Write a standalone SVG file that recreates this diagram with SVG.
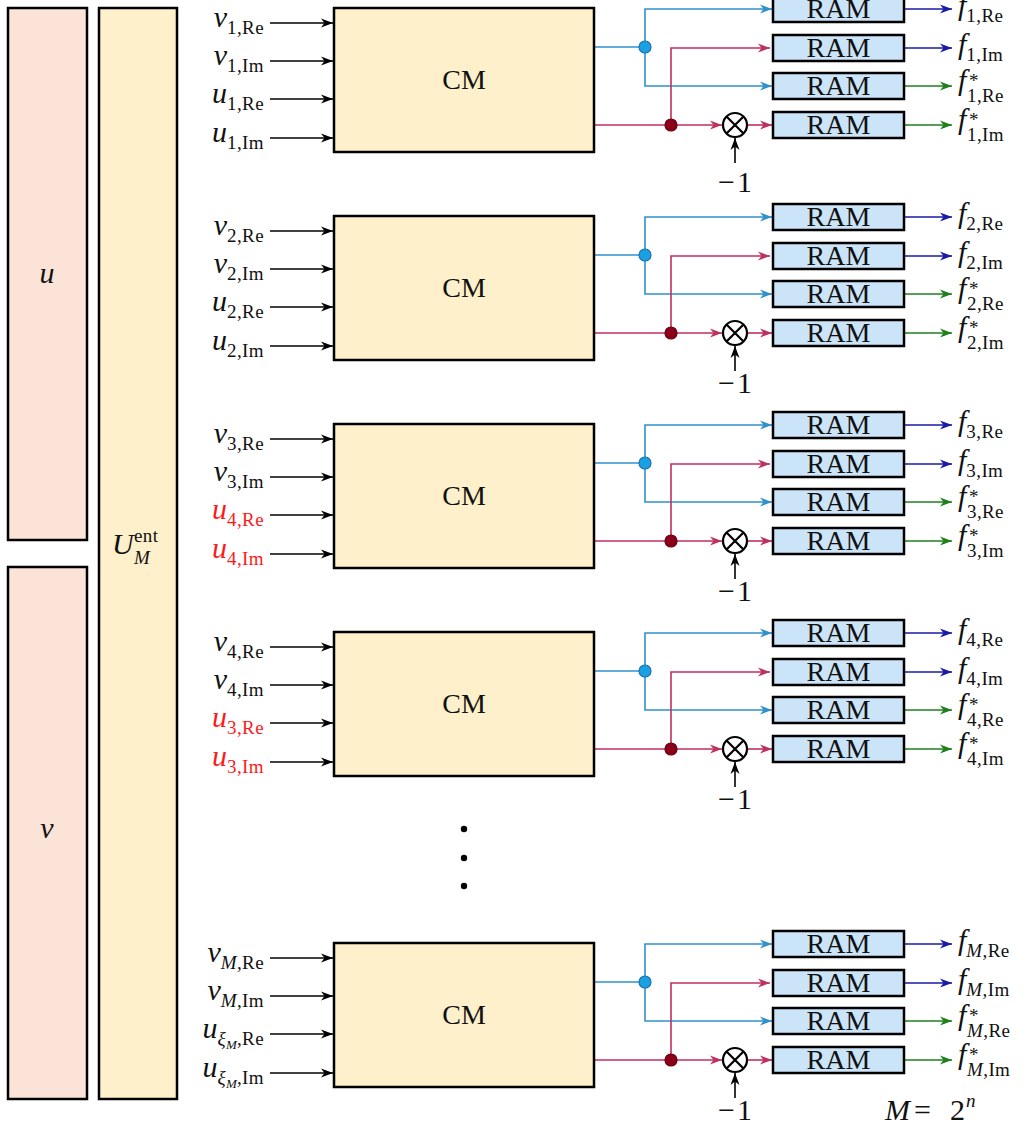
<svg xmlns="http://www.w3.org/2000/svg" width="1026" height="1128" viewBox="0 0 1026 1128">
<style>
.box{stroke:#000;stroke-width:2.5}
.cm{fill:#fff0cc}
.ram{fill:#cce4f7}
.peach{fill:#fbe3d8}
.bl{stroke:#3090cc;stroke-width:1.6;fill:none}
.rd{stroke:#c0305f;stroke-width:1.6;fill:none}
.bk{stroke:#000;stroke-width:1.6;fill:none}
.nv{stroke:#1a1aa6;stroke-width:1.6;fill:none}
.gr{stroke:#1f7f1f;stroke-width:1.6;fill:none}
.t{font-family:"Liberation Serif",serif;font-size:30px;fill:#111}
.w{font-size:28px}
.mi{font-style:italic}
.sub{font-size:19px;font-style:normal;letter-spacing:0.4px}
.red{fill:#ff1a1a}
.end{text-anchor:end}
.mid{text-anchor:middle}
.neg{letter-spacing:2px}
.ot{fill:#fff;stroke:#000;stroke-width:2.2}
.bdot{fill:#1ba1e2;stroke:#1a74b0;stroke-width:1.2}
.rdot{fill:#8b0018;stroke:#6a0010;stroke-width:1.2}
</style>
<defs>
<marker id="ak" markerUnits="userSpaceOnUse" markerWidth="12" markerHeight="10" viewBox="0 0 12 10" refX="12" refY="5" orient="auto"><path d="M0,0.5 L12,5 L0,9.5 L3.5,5 z" fill="#000"/></marker>
<marker id="ab" markerUnits="userSpaceOnUse" markerWidth="12" markerHeight="10" viewBox="0 0 12 10" refX="12" refY="5" orient="auto"><path d="M0,0.5 L12,5 L0,9.5 L3.5,5 z" fill="#3090cc"/></marker>
<marker id="ar" markerUnits="userSpaceOnUse" markerWidth="12" markerHeight="10" viewBox="0 0 12 10" refX="12" refY="5" orient="auto"><path d="M0,0.5 L12,5 L0,9.5 L3.5,5 z" fill="#c0305f"/></marker>
<marker id="an" markerUnits="userSpaceOnUse" markerWidth="12" markerHeight="10" viewBox="0 0 12 10" refX="12" refY="5" orient="auto"><path d="M0,0.5 L12,5 L0,9.5 L3.5,5 z" fill="#1a1aa6"/></marker>
<marker id="ag" markerUnits="userSpaceOnUse" markerWidth="12" markerHeight="10" viewBox="0 0 12 10" refX="12" refY="5" orient="auto"><path d="M0,0.5 L12,5 L0,9.5 L3.5,5 z" fill="#1f7f1f"/></marker>
</defs>
<rect width="1026" height="1128" fill="#fff"/>

<g id="u-bar"><rect class="box peach" x="8" y="8" width="79" height="532"/><text class="t mi mid" x="47" y="283" font-size="32">u</text></g>
<g id="v-bar"><rect class="box peach" x="8" y="567" width="79" height="532"/><text class="t mi mid" x="47" y="838" font-size="32">v</text></g>
<g id="U-bar"><rect class="box cm" x="99" y="8" width="78" height="1091"/><text class="t mi" x="112" y="554">U</text><text class="t sub" x="134" y="542">ent</text><text class="t sub mi" x="134" y="564" style="font-style:italic">M</text></g>

<!-- connectors -->
<g id="connectors">
<g transform="translate(0,8)">
<path class="bk" d="M270,15H333" marker-end="url(#ak)"/><path class="bk" d="M270,53H333" marker-end="url(#ak)"/><path class="bk" d="M270,91H333" marker-end="url(#ak)"/><path class="bk" d="M270,130H333" marker-end="url(#ak)"/>
<path class="bl" d="M595,39H645"/><path class="bl" d="M645,39V1H772" marker-end="url(#ab)"/><path class="bl" d="M645,39V78H772" marker-end="url(#ab)"/>
<path class="rd" d="M595,117H722" marker-end="url(#ar)"/><path class="rd" d="M671,117V40H770" marker-end="url(#ar)"/><path class="rd" d="M747,117H772" marker-end="url(#ar)"/>
<path class="bk" d="M735,155V130" marker-end="url(#ak)"/>
<path class="nv" d="M905,1H952" marker-end="url(#an)"/><path class="nv" d="M905,40H952" marker-end="url(#an)"/><path class="gr" d="M905,78H952" marker-end="url(#ag)"/><path class="gr" d="M905,117H952" marker-end="url(#ag)"/>
</g>
<g transform="translate(0,216)">
<path class="bk" d="M270,15H333" marker-end="url(#ak)"/><path class="bk" d="M270,53H333" marker-end="url(#ak)"/><path class="bk" d="M270,91H333" marker-end="url(#ak)"/><path class="bk" d="M270,130H333" marker-end="url(#ak)"/>
<path class="bl" d="M595,39H645"/><path class="bl" d="M645,39V1H772" marker-end="url(#ab)"/><path class="bl" d="M645,39V78H772" marker-end="url(#ab)"/>
<path class="rd" d="M595,117H722" marker-end="url(#ar)"/><path class="rd" d="M671,117V40H770" marker-end="url(#ar)"/><path class="rd" d="M747,117H772" marker-end="url(#ar)"/>
<path class="bk" d="M735,155V130" marker-end="url(#ak)"/>
<path class="nv" d="M905,1H952" marker-end="url(#an)"/><path class="nv" d="M905,40H952" marker-end="url(#an)"/><path class="gr" d="M905,78H952" marker-end="url(#ag)"/><path class="gr" d="M905,117H952" marker-end="url(#ag)"/>
</g>
<g transform="translate(0,424)">
<path class="bk" d="M270,15H333" marker-end="url(#ak)"/><path class="bk" d="M270,53H333" marker-end="url(#ak)"/><path class="bk" d="M270,91H333" marker-end="url(#ak)"/><path class="bk" d="M270,130H333" marker-end="url(#ak)"/>
<path class="bl" d="M595,39H645"/><path class="bl" d="M645,39V1H772" marker-end="url(#ab)"/><path class="bl" d="M645,39V78H772" marker-end="url(#ab)"/>
<path class="rd" d="M595,117H722" marker-end="url(#ar)"/><path class="rd" d="M671,117V40H770" marker-end="url(#ar)"/><path class="rd" d="M747,117H772" marker-end="url(#ar)"/>
<path class="bk" d="M735,155V130" marker-end="url(#ak)"/>
<path class="nv" d="M905,1H952" marker-end="url(#an)"/><path class="nv" d="M905,40H952" marker-end="url(#an)"/><path class="gr" d="M905,78H952" marker-end="url(#ag)"/><path class="gr" d="M905,117H952" marker-end="url(#ag)"/>
</g>
<g transform="translate(0,632)">
<path class="bk" d="M270,15H333" marker-end="url(#ak)"/><path class="bk" d="M270,53H333" marker-end="url(#ak)"/><path class="bk" d="M270,91H333" marker-end="url(#ak)"/><path class="bk" d="M270,130H333" marker-end="url(#ak)"/>
<path class="bl" d="M595,39H645"/><path class="bl" d="M645,39V1H772" marker-end="url(#ab)"/><path class="bl" d="M645,39V78H772" marker-end="url(#ab)"/>
<path class="rd" d="M595,117H722" marker-end="url(#ar)"/><path class="rd" d="M671,117V40H770" marker-end="url(#ar)"/><path class="rd" d="M747,117H772" marker-end="url(#ar)"/>
<path class="bk" d="M735,155V130" marker-end="url(#ak)"/>
<path class="nv" d="M905,1H952" marker-end="url(#an)"/><path class="nv" d="M905,40H952" marker-end="url(#an)"/><path class="gr" d="M905,78H952" marker-end="url(#ag)"/><path class="gr" d="M905,117H952" marker-end="url(#ag)"/>
</g>
<g transform="translate(0,943)">
<path class="bk" d="M270,15H333" marker-end="url(#ak)"/><path class="bk" d="M270,53H333" marker-end="url(#ak)"/><path class="bk" d="M270,91H333" marker-end="url(#ak)"/><path class="bk" d="M270,130H333" marker-end="url(#ak)"/>
<path class="bl" d="M595,39H645"/><path class="bl" d="M645,39V1H772" marker-end="url(#ab)"/><path class="bl" d="M645,39V78H772" marker-end="url(#ab)"/>
<path class="rd" d="M595,117H722" marker-end="url(#ar)"/><path class="rd" d="M671,117V40H770" marker-end="url(#ar)"/><path class="rd" d="M747,117H772" marker-end="url(#ar)"/>
<path class="bk" d="M735,155V130" marker-end="url(#ak)"/>
<path class="nv" d="M905,1H952" marker-end="url(#an)"/><path class="nv" d="M905,40H952" marker-end="url(#an)"/><path class="gr" d="M905,78H952" marker-end="url(#ag)"/><path class="gr" d="M905,117H952" marker-end="url(#ag)"/>
</g>
</g>

<!-- block 1 -->
<g id="block1" transform="translate(0,8)">
<g id="cm1"><rect class="box cm" x="334" y="0" width="260" height="144"/><text class="t w mid" x="464" y="81">CM</text></g>
<text class="t end" x="264" y="19"><tspan class="mi">v</tspan><tspan class="sub" dy="7">1,Re</tspan></text>
<text class="t end" x="264" y="57"><tspan class="mi">v</tspan><tspan class="sub" dy="7">1,Im</tspan></text>
<text class="t end" x="264" y="95"><tspan class="mi">u</tspan><tspan class="sub" dy="7">1,Re</tspan></text>
<text class="t end" x="264" y="134"><tspan class="mi">u</tspan><tspan class="sub" dy="7">1,Im</tspan></text>
<circle class="bdot" cx="645" cy="39" r="6"/><circle class="rdot" cx="671" cy="117" r="6"/>
<g id="mul1"><circle class="ot" cx="735" cy="117" r="12"/><path d="M726.5,108.5L743.5,125.5M743.5,108.5L726.5,125.5" stroke="#000" stroke-width="2.2"/></g>
<text class="t mid neg" x="736" y="184">−1</text>
<g id="ram1a"><rect class="box ram" x="773" y="-12" width="131" height="26"/><text class="t w mid" x="838.5" y="10">RAM</text></g>
<g id="ram1b"><rect class="box ram" x="773" y="27" width="131" height="26"/><text class="t w mid" x="838.5" y="49">RAM</text></g>
<g id="ram1c"><rect class="box ram" x="773" y="65" width="131" height="26"/><text class="t w mid" x="838.5" y="87">RAM</text></g>
<g id="ram1d"><rect class="box ram" x="773" y="104" width="131" height="26"/><text class="t w mid" x="838.5" y="126">RAM</text></g>
<text class="t" x="958" y="7"><tspan class="mi">f</tspan><tspan class="sub" dy="7">1,Re</tspan></text>
<text class="t" x="958" y="46"><tspan class="mi">f</tspan><tspan class="sub" dy="7">1,Im</tspan></text>
<text class="t" x="958" y="82"><tspan class="mi">f</tspan><tspan class="sub" x="969" y="79">*</tspan><tspan class="sub" x="967" y="94">1,Re</tspan></text>
<text class="t" x="958" y="121"><tspan class="mi">f</tspan><tspan class="sub" x="969" y="118">*</tspan><tspan class="sub" x="967" y="133">1,Im</tspan></text>
</g>

<!-- block 2 -->
<g id="block2" transform="translate(0,216)">
<g id="cm2"><rect class="box cm" x="334" y="0" width="260" height="144"/><text class="t w mid" x="464" y="81">CM</text></g>
<text class="t end" x="264" y="19"><tspan class="mi">v</tspan><tspan class="sub" dy="7">2,Re</tspan></text>
<text class="t end" x="264" y="57"><tspan class="mi">v</tspan><tspan class="sub" dy="7">2,Im</tspan></text>
<text class="t end" x="264" y="95"><tspan class="mi">u</tspan><tspan class="sub" dy="7">2,Re</tspan></text>
<text class="t end" x="264" y="134"><tspan class="mi">u</tspan><tspan class="sub" dy="7">2,Im</tspan></text>
<circle class="bdot" cx="645" cy="39" r="6"/><circle class="rdot" cx="671" cy="117" r="6"/>
<g id="mul2"><circle class="ot" cx="735" cy="117" r="12"/><path d="M726.5,108.5L743.5,125.5M743.5,108.5L726.5,125.5" stroke="#000" stroke-width="2.2"/></g>
<text class="t mid neg" x="736" y="177">−1</text>
<g id="ram2a"><rect class="box ram" x="773" y="-12" width="131" height="26"/><text class="t w mid" x="838.5" y="10">RAM</text></g>
<g id="ram2b"><rect class="box ram" x="773" y="27" width="131" height="26"/><text class="t w mid" x="838.5" y="49">RAM</text></g>
<g id="ram2c"><rect class="box ram" x="773" y="65" width="131" height="26"/><text class="t w mid" x="838.5" y="87">RAM</text></g>
<g id="ram2d"><rect class="box ram" x="773" y="104" width="131" height="26"/><text class="t w mid" x="838.5" y="126">RAM</text></g>
<text class="t" x="958" y="7"><tspan class="mi">f</tspan><tspan class="sub" dy="7">2,Re</tspan></text>
<text class="t" x="958" y="46"><tspan class="mi">f</tspan><tspan class="sub" dy="7">2,Im</tspan></text>
<text class="t" x="958" y="82"><tspan class="mi">f</tspan><tspan class="sub" x="969" y="79">*</tspan><tspan class="sub" x="967" y="94">2,Re</tspan></text>
<text class="t" x="958" y="121"><tspan class="mi">f</tspan><tspan class="sub" x="969" y="118">*</tspan><tspan class="sub" x="967" y="133">2,Im</tspan></text>
</g>

<!-- block 3 -->
<g id="block3" transform="translate(0,424)">
<g id="cm3"><rect class="box cm" x="334" y="0" width="260" height="144"/><text class="t w mid" x="464" y="81">CM</text></g>
<text class="t end" x="264" y="19"><tspan class="mi">v</tspan><tspan class="sub" dy="7">3,Re</tspan></text>
<text class="t end" x="264" y="57"><tspan class="mi">v</tspan><tspan class="sub" dy="7">3,Im</tspan></text>
<text class="t end red" x="264" y="95"><tspan class="mi">u</tspan><tspan class="sub" dy="7">4,Re</tspan></text>
<text class="t end red" x="264" y="134"><tspan class="mi">u</tspan><tspan class="sub" dy="7">4,Im</tspan></text>
<circle class="bdot" cx="645" cy="39" r="6"/><circle class="rdot" cx="671" cy="117" r="6"/>
<g id="mul3"><circle class="ot" cx="735" cy="117" r="12"/><path d="M726.5,108.5L743.5,125.5M743.5,108.5L726.5,125.5" stroke="#000" stroke-width="2.2"/></g>
<text class="t mid neg" x="736" y="177">−1</text>
<g id="ram3a"><rect class="box ram" x="773" y="-12" width="131" height="26"/><text class="t w mid" x="838.5" y="10">RAM</text></g>
<g id="ram3b"><rect class="box ram" x="773" y="27" width="131" height="26"/><text class="t w mid" x="838.5" y="49">RAM</text></g>
<g id="ram3c"><rect class="box ram" x="773" y="65" width="131" height="26"/><text class="t w mid" x="838.5" y="87">RAM</text></g>
<g id="ram3d"><rect class="box ram" x="773" y="104" width="131" height="26"/><text class="t w mid" x="838.5" y="126">RAM</text></g>
<text class="t" x="958" y="7"><tspan class="mi">f</tspan><tspan class="sub" dy="7">3,Re</tspan></text>
<text class="t" x="958" y="46"><tspan class="mi">f</tspan><tspan class="sub" dy="7">3,Im</tspan></text>
<text class="t" x="958" y="82"><tspan class="mi">f</tspan><tspan class="sub" x="969" y="79">*</tspan><tspan class="sub" x="967" y="94">3,Re</tspan></text>
<text class="t" x="958" y="121"><tspan class="mi">f</tspan><tspan class="sub" x="969" y="118">*</tspan><tspan class="sub" x="967" y="133">3,Im</tspan></text>
</g>

<!-- block 4 -->
<g id="block4" transform="translate(0,632)">
<g id="cm4"><rect class="box cm" x="334" y="0" width="260" height="144"/><text class="t w mid" x="464" y="81">CM</text></g>
<text class="t end" x="264" y="19"><tspan class="mi">v</tspan><tspan class="sub" dy="7">4,Re</tspan></text>
<text class="t end" x="264" y="57"><tspan class="mi">v</tspan><tspan class="sub" dy="7">4,Im</tspan></text>
<text class="t end red" x="264" y="95"><tspan class="mi">u</tspan><tspan class="sub" dy="7">3,Re</tspan></text>
<text class="t end red" x="264" y="134"><tspan class="mi">u</tspan><tspan class="sub" dy="7">3,Im</tspan></text>
<circle class="bdot" cx="645" cy="39" r="6"/><circle class="rdot" cx="671" cy="117" r="6"/>
<g id="mul4"><circle class="ot" cx="735" cy="117" r="12"/><path d="M726.5,108.5L743.5,125.5M743.5,108.5L726.5,125.5" stroke="#000" stroke-width="2.2"/></g>
<text class="t mid neg" x="736" y="177">−1</text>
<g id="ram4a"><rect class="box ram" x="773" y="-12" width="131" height="26"/><text class="t w mid" x="838.5" y="10">RAM</text></g>
<g id="ram4b"><rect class="box ram" x="773" y="27" width="131" height="26"/><text class="t w mid" x="838.5" y="49">RAM</text></g>
<g id="ram4c"><rect class="box ram" x="773" y="65" width="131" height="26"/><text class="t w mid" x="838.5" y="87">RAM</text></g>
<g id="ram4d"><rect class="box ram" x="773" y="104" width="131" height="26"/><text class="t w mid" x="838.5" y="126">RAM</text></g>
<text class="t" x="958" y="7"><tspan class="mi">f</tspan><tspan class="sub" dy="7">4,Re</tspan></text>
<text class="t" x="958" y="46"><tspan class="mi">f</tspan><tspan class="sub" dy="7">4,Im</tspan></text>
<text class="t" x="958" y="82"><tspan class="mi">f</tspan><tspan class="sub" x="969" y="79">*</tspan><tspan class="sub" x="967" y="94">4,Re</tspan></text>
<text class="t" x="958" y="121"><tspan class="mi">f</tspan><tspan class="sub" x="969" y="118">*</tspan><tspan class="sub" x="967" y="133">4,Im</tspan></text>
</g>

<g id="ellipsis"><circle cx="464" cy="829" r="3.2" fill="#000"/><circle cx="464" cy="858" r="3.2" fill="#000"/><circle cx="464" cy="886" r="3.2" fill="#000"/></g>

<!-- block M -->
<g id="blockM" transform="translate(0,943)">
<g id="cmM"><rect class="box cm" x="334" y="0" width="260" height="144"/><text class="t w mid" x="464" y="81">CM</text></g>
<text class="t end" x="264" y="19"><tspan class="mi">v</tspan><tspan class="sub" dy="7" style="font-style:italic">M</tspan><tspan class="sub">,Re</tspan></text>
<text class="t end" x="264" y="57"><tspan class="mi">v</tspan><tspan class="sub" dy="7" style="font-style:italic">M</tspan><tspan class="sub">,Im</tspan></text>
<text class="t end" x="264" y="95"><tspan class="mi">u</tspan><tspan class="sub" dy="7" style="font-style:italic">ξ</tspan><tspan font-size="13" font-style="italic" dy="4">M</tspan><tspan class="sub" dy="-4">,Re</tspan></text>
<text class="t end" x="264" y="134"><tspan class="mi">u</tspan><tspan class="sub" dy="7" style="font-style:italic">ξ</tspan><tspan font-size="13" font-style="italic" dy="4">M</tspan><tspan class="sub" dy="-4">,Im</tspan></text>
<circle class="bdot" cx="645" cy="39" r="6"/><circle class="rdot" cx="671" cy="117" r="6"/>
<g id="mulM"><circle class="ot" cx="735" cy="117" r="12"/><path d="M726.5,108.5L743.5,125.5M743.5,108.5L726.5,125.5" stroke="#000" stroke-width="2.2"/></g>
<text class="t mid neg" x="736" y="177">−1</text>
<g id="ramMa"><rect class="box ram" x="773" y="-12" width="131" height="26"/><text class="t w mid" x="838.5" y="10">RAM</text></g>
<g id="ramMb"><rect class="box ram" x="773" y="27" width="131" height="26"/><text class="t w mid" x="838.5" y="49">RAM</text></g>
<g id="ramMc"><rect class="box ram" x="773" y="65" width="131" height="26"/><text class="t w mid" x="838.5" y="87">RAM</text></g>
<g id="ramMd"><rect class="box ram" x="773" y="104" width="131" height="26"/><text class="t w mid" x="838.5" y="126">RAM</text></g>
<text class="t" x="958" y="7"><tspan class="mi">f</tspan><tspan class="sub" dy="7" style="font-style:italic">M</tspan><tspan class="sub">,Re</tspan></text>
<text class="t" x="958" y="46"><tspan class="mi">f</tspan><tspan class="sub" dy="7" style="font-style:italic">M</tspan><tspan class="sub">,Im</tspan></text>
<text class="t" x="958" y="82"><tspan class="mi">f</tspan><tspan class="sub" x="969" y="79">*</tspan><tspan class="sub" x="967" y="94" style="font-style:italic">M</tspan><tspan class="sub">,Re</tspan></text>
<text class="t" x="958" y="121"><tspan class="mi">f</tspan><tspan class="sub" x="969" y="118">*</tspan><tspan class="sub" x="967" y="133" style="font-style:italic">M</tspan><tspan class="sub">,Im</tspan></text>
</g>

<g id="note"><text class="t" x="885" y="1120"><tspan class="mi">M</tspan><tspan x="914">=</tspan><tspan x="950">2</tspan><tspan class="sub" x="966" y="1107" style="font-style:italic">n</tspan></text></g>
</svg>
